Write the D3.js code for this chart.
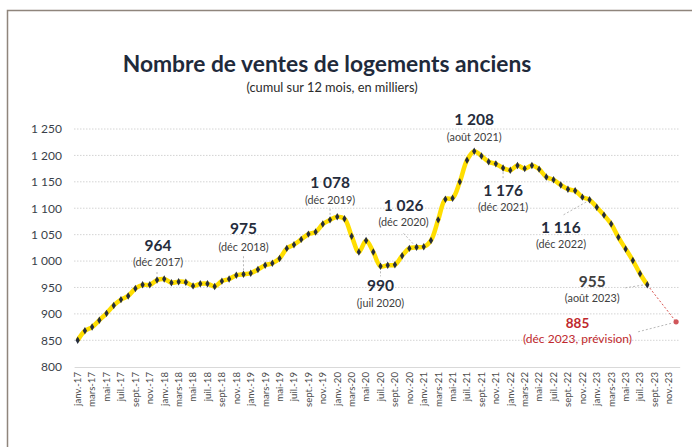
<!DOCTYPE html>
<html lang="fr">

<head>
    <meta charset="UTF-8">
    <title>Nombre de ventes de logements anciens</title>
    <script src="https://d3js.org/d3.v7.min.js"></script>
</head>
<style>
    body {
        margin: 0;
        background: #fff;
    }
    
    svg text {
        font-family: Lato, "Open Sans", sans-serif;
    }
</style>

<body>
    <div id="chart"></div>
    <script>
        // months janv.-17 -> déc.-23
        const monthNames = ['janv.', 'févr.', 'mars', 'avr.', 'mai', 'juin', 'juil.', 'août', 'sept.', 'oct.', 'nov.', 'déc.'];
        const years = ['17', '18', '19', '20', '21', '22', '23'];
        const months = [];
        years.forEach(y => monthNames.forEach(m => months.push(m + '-' + y)));

        // cumul 12 mois, en milliers (janv.-17 -> août-23)
        const sales = [
            850, 868, 875, 888, 901, 916, 927, 934, 948, 955, 955, 964,
            966, 959, 961, 960, 953, 957, 957, 952, 962, 966, 973, 975,
            977, 984, 992, 996, 1005, 1024, 1031, 1041, 1051, 1055, 1070, 1078,
            1084, 1080, 1047, 1017, 1039, 1017, 990, 992, 993, 1010, 1024, 1026,
            1027, 1039, 1078, 1117, 1119, 1150, 1191, 1208, 1199, 1188, 1184, 1176,
            1172, 1181, 1175, 1181, 1174, 1159, 1154, 1144, 1136, 1133, 1121, 1116,
            1102, 1087, 1070, 1045, 1023, 1001, 976, 955
        ];

        // prévision
        const forecastMonths = ['août-23', 'déc.-23'];
        const forecastValues = [955, 885];

        const yTicks = [800, 850, 900, 950, 1000, 1050, 1100, 1150, 1200, 1250];

        // annotations
        const annotMonths = ['déc.-17', 'déc.-18', 'déc.-19', 'juil.-20', 'déc.-20', 'août-21', 'déc.-21', 'déc.-22', 'août-23', 'déc.-23'];
        const annotValues = ['964', '975', '1 078', '990', '1 026', '1 208', '1 176', '1 116', '955', '885'];
        const annotNotes = ['(déc 2017)', '(déc 2018)', '(déc 2019)', '(juil 2020)', '(déc 2020)', '(août 2021)', '(déc 2021)', '(déc 2022)', '(août 2023)', '(déc 2023, prévision)'];

        const width = 692,
            height = 447;

        const svg = d3.select('#chart')
            .append('svg')
            .attr('width', width)
            .attr('height', height);

        // frame
        svg.append('rect')
            .attr('x', 7.5)
            .attr('y', 10.5)
            .attr('width', 720)
            .attr('height', 480)
            .attr('fill', 'none')
            .attr('stroke', '#8f857c')
            .attr('stroke-width', 1.5);

        // title
        svg.append('text')
            .attr('x', 327)
            .attr('y', 72)
            .attr('text-anchor', 'middle')
            .attr('font-size', '22.8px')
            .attr('font-weight', 'bold')
            .attr('fill', '#1f2a3b')
            .text('Nombre de ventes de logements anciens');

        svg.append('text')
            .attr('x', 332)
            .attr('y', 92)
            .attr('text-anchor', 'middle')
            .attr('font-size', '12.8px')
            .attr('fill', '#2b2b2b')
            .text('(cumul sur 12 mois, en milliers)');

        const x = d3.scaleBand()
            .domain(months)
            .range([74.1, 679.7]);
        const cx = m => x(m) + x.bandwidth() / 2;

        const y = d3.scaleLinear()
            .domain([800, 1250])
            .range([366.7, 129]);

        // gridlines
        svg.append('g')
            .selectAll('line')
            .data(yTicks.slice(1))
            .enter()
            .append('line')
            .attr('x1', 74)
            .attr('x2', 680)
            .attr('y1', d => y(d))
            .attr('y2', d => y(d))
            .attr('stroke', '#d4d4d4')
            .attr('stroke-width', 1)
            .attr('stroke-dasharray', '1.5,1.5');

        // y axis
        const fr = d3.formatLocale({
            decimal: ',',
            thousands: ' ',
            grouping: [3],
            currency: ['', ' €']
        });
        const yAxis = svg.append('g')
            .attr('transform', 'translate(74,0)')
            .call(d3.axisLeft(y).tickValues(yTicks).tickSize(0).tickPadding(12).tickFormat(fr.format(',d')));
        yAxis.select('.domain').remove();
        yAxis.selectAll('text')
            .attr('font-size', '12px')
            .attr('fill', '#3a3f4a')
            .style('font-family', 'Lato, sans-serif');

        // x axis
        const xAxis = svg.append('g')
            .attr('transform', 'translate(0,367)')
            .call(d3.axisBottom(x).tickValues(months.filter((m, i) => i % 2 === 0)).tickSize(0).tickPadding(0));
        xAxis.select('.domain')
            .attr('stroke', '#d9d9d9');
        xAxis.selectAll('text')
            .attr('font-size', '9.6px')
            .attr('fill', '#4d4d4d')
            .attr('text-anchor', 'end')
            .attr('transform', 'translate(0,5) rotate(-90)')
            .attr('x', 0)
            .attr('y', 0)
            .attr('dy', '0.35em')
            .style('font-family', 'Lato, sans-serif');

        // forecast dotted line
        svg.append('path')
            .datum(forecastMonths.map((m, i) => [m, forecastValues[i]]))
            .attr('d', d3.line().x(d => cx(d[0])).y(d => y(d[1])))
            .attr('fill', 'none')
            .attr('stroke', '#d9534f')
            .attr('stroke-width', 1)
            .attr('stroke-dasharray', '2,2');

        svg.append('circle')
            .attr('cx', cx(forecastMonths[1]))
            .attr('cy', y(forecastValues[1]))
            .attr('r', 2.6)
            .attr('fill', '#d0555a');

        // main line
        const data = sales.map((v, i) => [months[i], v]);
        svg.append('path')
            .datum(data)
            .attr('d', d3.line().x(d => cx(d[0])).y(d => y(d[1])).curve(d3.curveCatmullRom.alpha(0.5)))
            .attr('fill', 'none')
            .attr('stroke', '#ffde00')
            .attr('stroke-width', 4.5)
            .attr('stroke-linejoin', 'round');

        svg.append('g')
            .selectAll('path')
            .data(data)
            .enter()
            .append('path')
            .attr('transform', d => 'translate(' + cx(d[0]) + ',' + y(d[1]) + ')')
            .attr('d', d3.symbol(d3.symbolDiamond).size(16))
            .attr('fill', '#252c3c');

        // label layout: [dx, value baseline dy, note baseline dy, leader x1, y1, x2, y2]
        const layout = [
            [1, -29, -14, 0, -8, 0, -4],
            [0, -40, -23, 0, -18, 0, -3],
            [0, -32, -16, 0, -11, 0, -5],
            [0, 25, 41, 0, 5, 0, 10],
            [-13, -36, -21, -13, -14, -2, -2],
            [0, -26, -10, null],
            [0, 28, 43, 0, 4, 0, 10],
            [-28.6, 33, 48, -26, 15, -3, 2],
            [-55, 2, 17, -22, 3, -3, 0],
            [-98.6, 6, 21, -38, 10, -3, 1]
        ];

        annotMonths.forEach((m, i) => {
            const idx = months.indexOf(m);
            const v = idx < sales.length ? sales[idx] : forecastValues[1];
            const px = cx(m),
                py = y(v);
            const l = layout[i];
            const isForecast = i === annotMonths.length - 1;

            if (l[3] !== null) {
                svg.append('line')
                    .attr('x1', px + l[3])
                    .attr('y1', py + l[4])
                    .attr('x2', px + l[5])
                    .attr('y2', py + l[6])
                    .attr('stroke', '#a6a6a6')
                    .attr('stroke-width', 0.8)
                    .attr('stroke-dasharray', '2,2');
            }

            svg.append('text')
                .attr('x', px + l[0])
                .attr('y', py + l[1])
                .attr('text-anchor', 'middle')
                .attr('font-size', isForecast ? '13.5px' : '15.5px')
                .attr('font-weight', 'bold')
                .attr('fill', isForecast ? '#c0282d' : (i === 8 ? '#404040' : '#252c3c'))
                .text(annotValues[i]);

            svg.append('text')
                .attr('x', px + l[0])
                .attr('y', py + l[2])
                .attr('text-anchor', 'middle')
                .attr('font-size', isForecast ? '12px' : '10.8px')
                .attr('fill', isForecast ? '#c0282d' : '#404040')
                .text(annotNotes[i]);
        });
    </script>
</body>

</html>
